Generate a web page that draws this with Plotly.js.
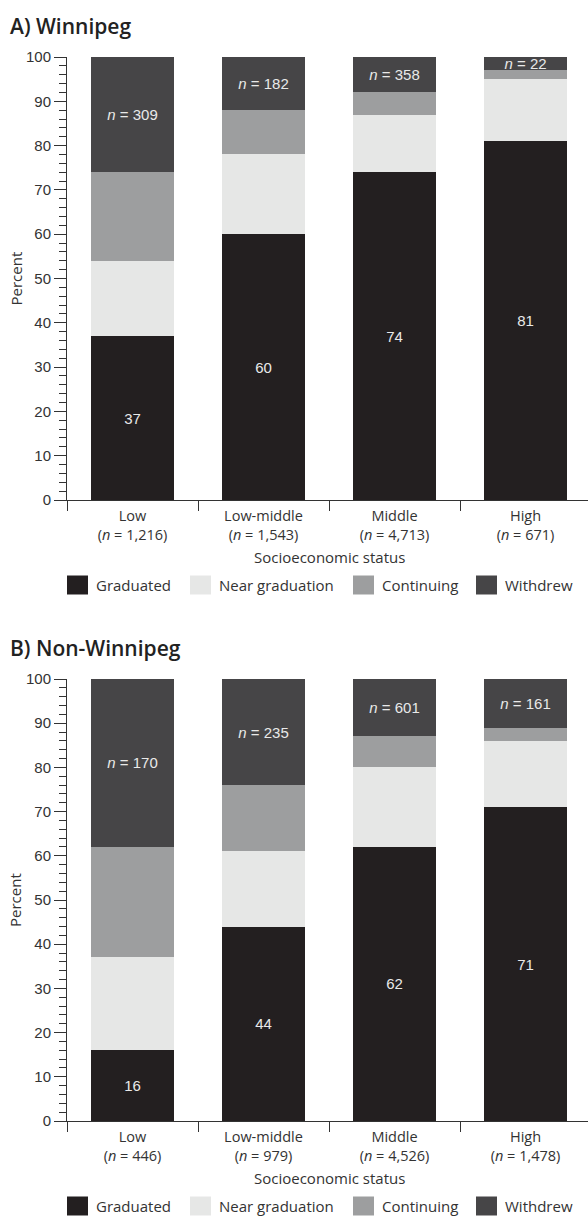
<!DOCTYPE html>
<html>
<head>
<meta charset="utf-8">
<script src="https://cdn.plot.ly/plotly-3.0.1.min.js"></script>
<style>
  html, body { margin: 0; padding: 0; background: #fff; }
  #chart { width: 588px; height: 1220px; }
</style>
</head>
<body>
<div id="chart"></div>
<script>
// Socioeconomic status groups and group sizes
const categories = ['Low', 'Low-middle', 'Middle', 'High'];
const groupN_A = ['1,216', '1,543', '4,713', '671'];
const groupN_B = ['446', '979', '4,526', '1,478'];

// Outcome series (percent), panel A: Winnipeg
const graduatedA = [37, 60, 74, 81];
const nearGradA  = [17, 18, 13, 14];
const continuingA = [20, 10, 5, 2];
const withdrewA  = [26, 12, 8, 3];
const withdrewCountA = ['309', '182', '358', '22'];

// Outcome series (percent), panel B: Non-Winnipeg
const graduatedB = [16, 44, 62, 71];
const nearGradB  = [21, 17, 18, 15];
const continuingB = [25, 15, 7, 3];
const withdrewB  = [38, 24, 13, 11];
const withdrewCountB = ['170', '235', '601', '161'];

const seriesNames = ['Graduated', 'Near graduation', 'Continuing', 'Withdrew'];
const seriesColors = ['#231f20', '#e6e7e6', '#9d9e9f', '#464547'];
const yTicks = [0, 10, 20, 30, 40, 50, 60, 70, 80, 90, 100];

// Page geometry (pixels)
const W = 588, H = 1220, L = 67, R = 0;
const plotW = W - L - R;
const fx = px => (px - L) / plotW;
const fy = py => 1 - py / H;

const textColor = '#333333';
const labelFont = 'Open Sans, Noto Sans, sans-serif';
const numFont = 'Liberation Sans, Arial, sans-serif';

function catLabels(ns) {
  return categories.map((c, i) => c + '<br>(<i>n</i> = ' + ns[i] + ')');
}

function panelTraces(xa, ya, ns, grad, near, cont, withd, wCounts) {
  const x = catLabels(ns);
  const vals = [grad, near, cont, withd];
  return vals.map((v, k) => {
    const t = {
      type: 'bar', x: x, y: v, name: seriesNames[k],
      xaxis: xa, yaxis: ya, width: 0.64,
      marker: { color: seriesColors[k], line: { width: 0 } },
      showlegend: false, hoverinfo: 'skip'
    };
    if (k === 0) {
      t.text = v.map(String);
    } else if (k === 3) {
      t.text = wCounts.map(c => '<i>n</i> = ' + c);
    }
    if (t.text) {
      t.textposition = 'inside';
      t.insidetextanchor = 'middle';
      t.constraintext = 'none';
      t.textfont = { family: numFont, size: 15, color: '#e9e9e9' };
    }
    return t;
  });
}

const traces = [
  ...panelTraces('x', 'y', groupN_A, graduatedA, nearGradA, continuingA, withdrewA, withdrewCountA),
  ...panelTraces('x2', 'y2', groupN_B, graduatedB, nearGradB, continuingB, withdrewB, withdrewCountB)
];

function xAxis(anchor) {
  return {
    anchor: anchor, domain: [0, 1], type: 'category',
    range: [-0.5, 3.5 - 3 / 131],
    showline: true, linecolor: textColor, linewidth: 1,
    ticks: 'outside', tickson: 'boundaries', ticklen: 10, tickcolor: textColor, tickwidth: 1,
    ticklabelstandoff: 3,
    tickfont: { family: labelFont, size: 14.5, color: textColor },
    showgrid: false, zeroline: false, fixedrange: true
  };
}
function yAxis(anchor, top, bottom) {
  return {
    anchor: anchor, domain: [fy(bottom), fy(top)], range: [0, 100],
    tickmode: 'array', tickvals: yTicks,
    showline: true, linecolor: textColor, linewidth: 1,
    ticks: 'outside', ticklen: 12, tickcolor: textColor, tickwidth: 1,
    minor: { dtick: 2, ticks: 'outside', ticklen: 7, tickcolor: textColor, tickwidth: 1, showgrid: false },
    tickfont: { family: numFont, size: 15, color: textColor },
    showgrid: false, zeroline: false, fixedrange: true
  };
}

const panels = [
  { title: 'A) Winnipeg', top: 57, bottom: 500, titleY: 26 },
  { title: 'B) Non-Winnipeg', top: 679, bottom: 1121, titleY: 648 }
];

const annotations = [];
const shapes = [];
const legendX = [67, 190, 353, 476];

panels.forEach(p => {
  annotations.push({
    xref: 'paper', yref: 'paper', x: fx(8), y: fy(p.titleY),
    xanchor: 'left', yanchor: 'middle', showarrow: false, text: p.title,
    font: { family: labelFont, size: 21, color: '#222', weight: 600 }
  });
  annotations.push({
    xref: 'paper', yref: 'paper', x: fx(15), y: fy((p.top + p.bottom) / 2),
    xanchor: 'center', yanchor: 'middle', showarrow: false, text: 'Percent', textangle: -90,
    font: { family: labelFont, size: 15, color: textColor }
  });
  annotations.push({
    xref: 'paper', yref: 'paper', x: fx(L + 2 * 131), y: fy(p.bottom + 57),
    xanchor: 'center', yanchor: 'middle', showarrow: false, text: 'Socioeconomic status',
    font: { family: labelFont, size: 15, color: textColor }
  });
  const ly = p.bottom + 85;
  seriesNames.forEach((name, k) => {
    shapes.push({
      type: 'rect', xref: 'paper', yref: 'paper',
      x0: fx(legendX[k]), x1: fx(legendX[k] + 21),
      y0: fy(ly + 9.5), y1: fy(ly - 9.5),
      fillcolor: seriesColors[k], line: { width: 0 }
    });
    annotations.push({
      xref: 'paper', yref: 'paper', x: fx(legendX[k] + 27), y: fy(ly),
      xanchor: 'left', yanchor: 'middle', showarrow: false, text: name,
      font: { family: labelFont, size: 15, color: textColor }
    });
  });
});

const layout = {
  width: W, height: H,
  margin: { l: L, r: R, t: 0, b: 0, pad: 0 },
  paper_bgcolor: '#fff', plot_bgcolor: '#fff',
  barmode: 'stack', showlegend: false,
  xaxis: xAxis('y'),
  yaxis: yAxis('x', panels[0].top, panels[0].bottom),
  xaxis2: xAxis('y2'),
  yaxis2: yAxis('x2', panels[1].top, panels[1].bottom),
  annotations: annotations,
  shapes: shapes
};

Plotly.newPlot('chart', traces, layout, { displayModeBar: false, staticPlot: true });
</script>
</body>
</html>
